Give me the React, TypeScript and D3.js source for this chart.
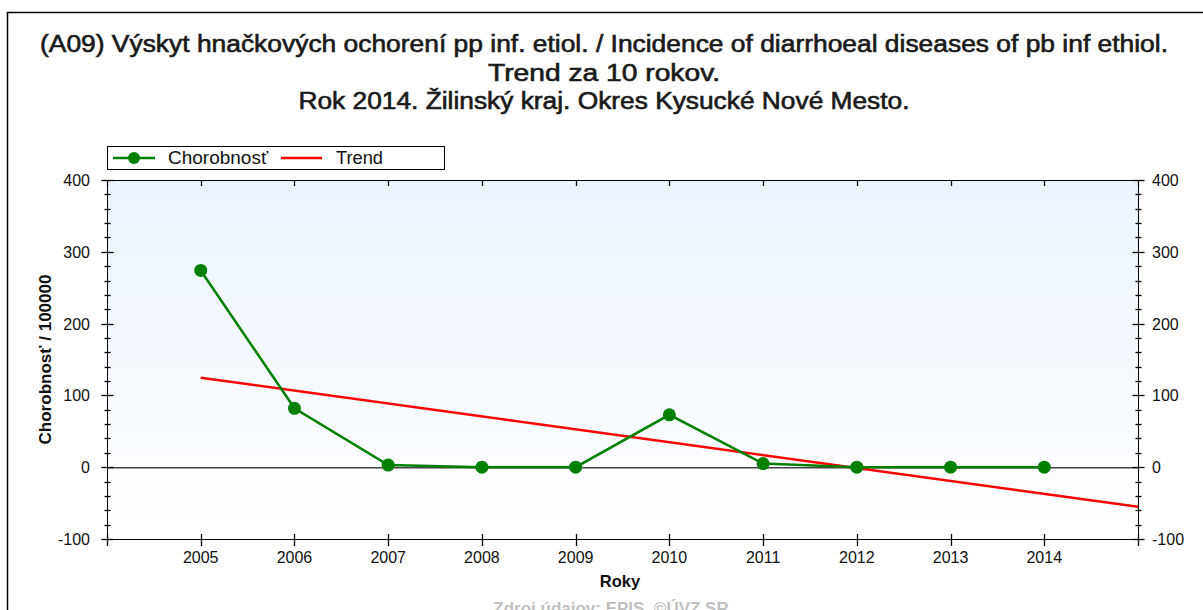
import React from "react";
import * as d3 from "d3";

const years = [2005, 2006, 2007, 2008, 2009, 2010, 2011, 2012, 2013, 2014];
const incidence = [274, 82, 3, 0, 0, 73, 5, 0, 0, 0];
const trendYears = [2005, 2015];
const trendValues = [124.6, -55.2];
const yTicks = [-100, 0, 100, 200, 300, 400];
const titleLines = [
  "(A09) Výskyt hnačkových ochorení pp inf. etiol. / Incidence of diarrhoeal diseases of pb inf ethiol.",
  "Trend za 10 rokov.",
  "Rok 2014. Žilinský kraj. Okres Kysucké Nové Mesto.",
];
const titleWidths = [1128, 232, 611];

const W = 1203;
const H = 610;
const L = 107, R = 1138, T = 180, B = 539;
const FONT = "'Liberation Sans', Arial, sans-serif";

export default function App() {
  const x = d3.scaleLinear().domain([2004, 2015]).range([L, R]);
  const y = d3.scaleLinear().domain([-100, 400]).range([B, T]);
  const minor = d3.range(-100, 401, 20);
  const line = d3.line<number>().x((_, i) => x(years[i])).y((d) => y(d));
  const trend = d3.line<number>().x((_, i) => x(trendYears[i])).y((d) => y(d));
  const xTickVals = d3.range(2004, 2016);

  return (
    <svg width={W} height={H} style={{ position: "absolute", left: 0, top: 0, background: "#fff" }} fontFamily={FONT}>
      <defs>
        <linearGradient id="bg" x1="0" y1="0" x2="0" y2="1">
          <stop offset="0" stopColor="#eaf3fd" />
          <stop offset="1" stopColor="#ffffff" />
        </linearGradient>
      </defs>
      <rect x={0} y={0} width={W} height={H} fill="#fff" />
      {/* outer frame */}
      <path d={`M7.5,${H + 5} V12.5 H${W + 5}`} fill="none" stroke="#000" strokeWidth={1.5} />
      {titleLines.map((t, i) => (
        <text
          key={i}
          x={604}
          y={52 + i * 28.5}
          textAnchor="middle"
          fontSize={23}
          fill="#1a1a1a"
          stroke="#1a1a1a"
          strokeWidth={0.6}
          textLength={titleWidths[i]}
          lengthAdjust="spacingAndGlyphs"
        >
          {t}
        </text>
      ))}
      {/* legend */}
      <rect x={107.5} y={146.5} width={337} height={23} fill="#fff" stroke="#000" />
      <line x1={113} x2={155} y1={158} y2={158} stroke="#008000" strokeWidth={2.5} />
      <circle cx={134} cy={158} r={6} fill="#008000" />
      <text x={168} y={164} fontSize={18} fill="#111" textLength={100} lengthAdjust="spacingAndGlyphs">Chorobnosť</text>
      <line x1={281} x2={322} y1={158} y2={158} stroke="#ff0000" strokeWidth={2.5} />
      <text x={336} y={164} fontSize={18} fill="#111" textLength={47} lengthAdjust="spacingAndGlyphs">Trend</text>
      {/* plot area */}
      <rect x={L} y={T} width={R - L} height={B - T} fill="url(#bg)" />
      <line x1={L} x2={R} y1={T + 0.5} y2={T + 0.5} stroke="#000" />
      <line x1={L} x2={R} y1={B + 0.5} y2={B + 0.5} stroke="#000" />
      <line x1={L + 0.5} x2={L + 0.5} y1={T} y2={B + 7} stroke="#000" />
      <line x1={R + 0.5} x2={R + 0.5} y1={T} y2={B + 7} stroke="#000" />
      <line x1={L} x2={R} y1={y(0) + 0.5} y2={y(0) + 0.5} stroke="#444" strokeWidth={1.5} />
      {/* y ticks */}
      {minor.map((v) => {
        const major = v % 100 === 0;
        const yy = Math.round(y(v)) + 0.5;
        const a = major ? 6 : 3;
        return (
          <g key={v}>
            <line x1={L + 0.5 - a} x2={L + 0.5 + a} y1={yy} y2={yy} stroke="#000" strokeWidth={1.3} />
            <line x1={R + 0.5 - a} x2={R + 0.5 + a} y1={yy} y2={yy} stroke="#000" strokeWidth={1.3} />
          </g>
        );
      })}
      {yTicks.map((v) => (
        <g key={v}>
          <text x={90} y={y(v) + 6} textAnchor="end" fontSize={16} fill="#111">{v}</text>
          <text x={1152} y={y(v) + 6} textAnchor="start" fontSize={16} fill="#111">{v}</text>
        </g>
      ))}
      {/* x ticks */}
      {xTickVals.map((v) => {
        const xx = Math.round(x(v)) + 0.5;
        return (
          <g key={v}>
            <line x1={xx} x2={xx} y1={T} y2={T + 6} stroke="#000" strokeWidth={1.3} />
            <line x1={xx} x2={xx} y1={B - 5} y2={B + 7} stroke="#000" strokeWidth={1.3} />
          </g>
        );
      })}
      {years.map((v) => (
        <text key={v} x={x(v)} y={563} textAnchor="middle" fontSize={16} fill="#111">{v}</text>
      ))}
      {/* series */}
      <path d={trend(trendValues) || ""} fill="none" stroke="#ff0000" strokeWidth={2.5} />
      <path d={line(incidence) || ""} fill="none" stroke="#008000" strokeWidth={2.5} />
      {incidence.map((v, i) => (
        <circle key={i} cx={x(years[i])} cy={y(v)} r={6.5} fill="#008000" />
      ))}
      {/* axis titles */}
      <text x={620} y={587} textAnchor="middle" fontSize={16.5} fontWeight="bold" fill="#111">Roky</text>
      <text transform={`translate(51,${(T + B) / 2}) rotate(-90)`} textAnchor="middle" fontSize={16} fontWeight="bold" fill="#111" textLength={170} lengthAdjust="spacingAndGlyphs">
        Chorobnosť / 100000
      </text>
      <text x={611} y={614} textAnchor="middle" fontSize={17} fontWeight="bold" fill="#c0c0c0">
        Zdroj údajov: EPIS, ©ÚVZ SR
      </text>
    </svg>
  );
}
